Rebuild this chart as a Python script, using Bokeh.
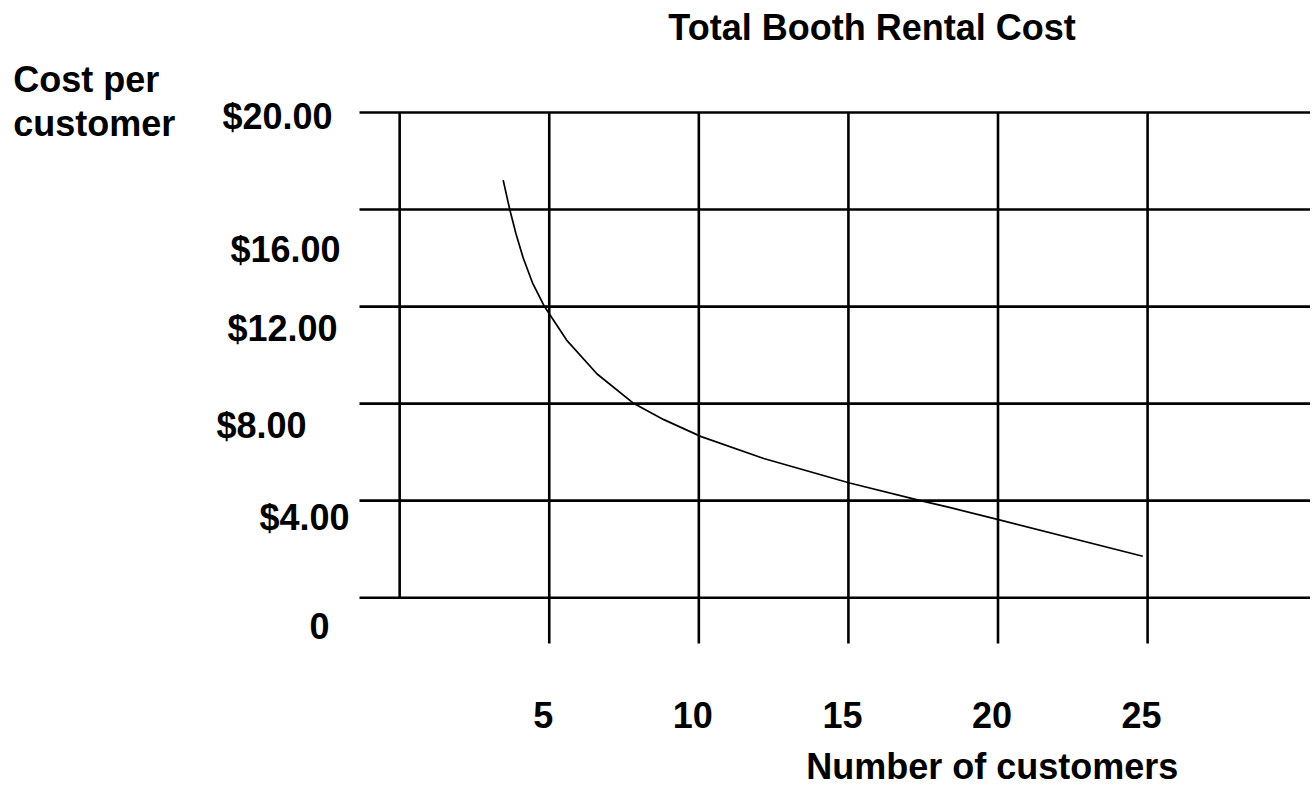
from bokeh.plotting import figure
from bokeh.models import ColumnDataSource, Range1d, Label
from bokeh.core.properties import value
from bokeh.embed import file_html
from bokeh.resources import INLINE

# ---------------- data ----------------
customers = [3.46, 3.68, 3.89, 4.13, 4.44, 4.84, 5.58, 6.60, 7.83,
             8.83, 10.08, 12.17, 15.04, 17.41, 18.41, 19.98, 24.84]
cost_per_customer = [17.21, 16.00, 14.99, 14.00, 12.98, 12.00, 10.62, 9.22, 8.00,
                     7.34, 6.64, 5.74, 4.73, 4.00, 3.71, 3.23, 1.71]
x_ticks = [5, 10, 15, 20, 25]
x_tick_labels = ["5", "10", "15", "20", "25"]
y_ticks = [0, 4, 8, 12, 16, 20]
y_tick_labels = ["0", "$4.00", "$8.00", "$12.00", "$16.00", "$20.00"]
title_text = "Total Booth Rental Cost"
x_title = "Number of customers"
y_title_lines = ["Cost per", "customer"]

# ---------------- layout ----------------
W, H = 1310, 788
# linear scales: canvas_x = X0 + SX * x ; canvas_y = Y0 - SY * y
X0, SX = 399.16, 29.917
Y0, SY = 597.2, 24.26
TS = -12.5  # correction of the rendered text baseline (pixels)


def to_x(px):
    return (px - X0) / SX


def to_y(py):
    return (Y0 - (py + TS)) / SY


def to_y_line(py):
    return (Y0 - py) / SY


FONT = "Liberation Sans"
FSIZE = "36px"
LW = 2.6

p = figure(width=W, height=H,
           x_range=Range1d(to_x(0), to_x(W)),
           y_range=Range1d(to_y_line(H), to_y_line(0)),
           toolbar_location=None, tools="", output_backend="svg",
           min_border=0, x_axis_location=None, y_axis_location=None,
           outline_line_color=None, background_fill_color="white",
           border_fill_color="white")
p.grid.visible = False

grid_left = to_x(359)
grid_right = to_x(W + 5)
tick_bottom = to_y_line(643)
top_val = max(y_ticks)

# horizontal rules
p.segment(x0=[grid_left] * len(y_ticks), y0=y_ticks,
          x1=[grid_right] * len(y_ticks), y1=y_ticks,
          line_color="black", line_width=LW)
# vertical rules (extend below the zero line as ticks)
p.segment(x0=x_ticks, y0=[tick_bottom] * len(x_ticks),
          x1=x_ticks, y1=[top_val] * len(x_ticks),
          line_color="black", line_width=LW)
# y axis
p.segment(x0=[0], y0=[0], x1=[0], y1=[top_val],
          line_color="black", line_width=LW)

# curve
p.line(customers, cost_per_customer, line_color="black", line_width=1.7,
       line_join="round")

# y tick labels (hand-placed nudges in pixels, as in the reference)
y_label_dx = [-30, -10, -53, -22, -19, -27]
y_label_dy = [41 + TS, 29 + TS, 34 + TS, 34 + TS, 52 + TS, 16 + TS]
ysrc = ColumnDataSource(dict(x=[grid_left] * len(y_ticks), y=y_ticks,
                             text=y_tick_labels, dx=y_label_dx, dy=y_label_dy))
p.text(x="x", y="y", text="text", x_offset="dx", y_offset="dy", source=ysrc,
       text_font=value(FONT), text_font_style="bold", text_font_size=FSIZE,
       text_align="right", text_baseline="alphabetic", text_color="black")

# x tick labels
xsrc = ColumnDataSource(dict(x=x_ticks, y=[0] * len(x_ticks), text=x_tick_labels))
p.text(x="x", y="y", text="text", x_offset=-6, y_offset=130 + TS, source=xsrc,
       text_font=value(FONT), text_font_style="bold", text_font_size=FSIZE,
       text_align="center", text_baseline="alphabetic", text_color="black")

# titles
p.add_layout(Label(x=to_x(871.5), y=to_y(39), text=title_text,
                   text_font=FONT, text_font_style="bold", text_font_size=FSIZE,
                   text_align="center", text_baseline="alphabetic", text_color="black"))
p.add_layout(Label(x=to_x(991.7), y=to_y(778), text=x_title,
                   text_font=FONT, text_font_style="bold", text_font_size=FSIZE,
                   text_align="center", text_baseline="alphabetic", text_color="black"))
for line_text, py in zip(y_title_lines, [91.7, 135.0]):
    p.add_layout(Label(x=to_x(12.7), y=to_y(py), text=line_text,
                       text_font=FONT, text_font_style="bold", text_font_size=FSIZE,
                       text_align="left", text_baseline="alphabetic", text_color="black"))

open("out.html", "w").write(file_html(p, INLINE))
